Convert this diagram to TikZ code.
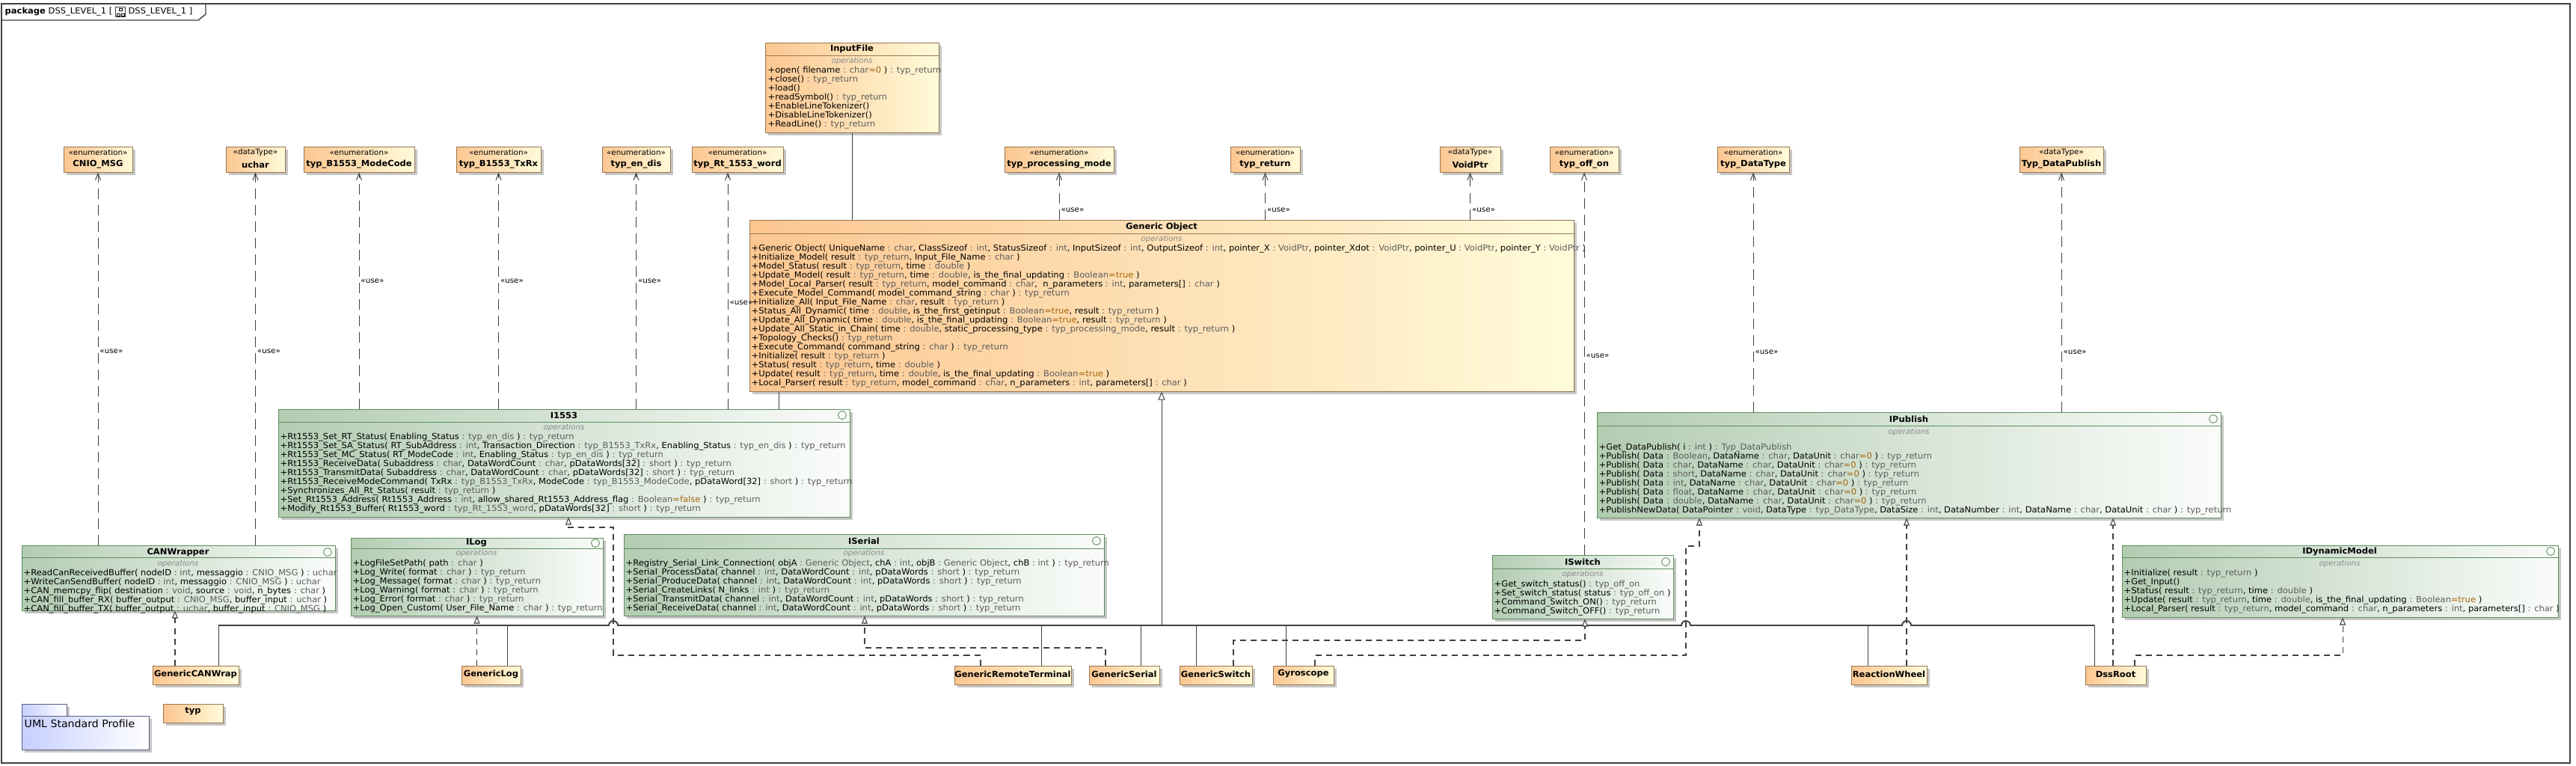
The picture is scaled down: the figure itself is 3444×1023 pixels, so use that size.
\documentclass[tikz,border=0pt]{standalone}
\usepackage{fontspec}
\setmainfont{DejaVu Sans}[FakeStretch=1.03]
\usetikzlibrary{positioning,fit,shadows,arrows.meta,calc}

\definecolor{orL}{HTML}{FCC690}
\definecolor{orR}{HTML}{FFFBDA}
\definecolor{orB}{HTML}{9A7652}
\definecolor{grL}{HTML}{B2CCB2}
\definecolor{grR}{HTML}{FAFCFA}
\definecolor{grB}{HTML}{5E8E5E}
\definecolor{pkL}{HTML}{C6CFFF}
\definecolor{pkB}{HTML}{5A5F8A}
\definecolor{tyc}{HTML}{5C5C5C}
\definecolor{dvc}{HTML}{A5650A}
\definecolor{opc}{HTML}{8A8A8A}
\definecolor{lnc}{HTML}{404040}

\newcommand{\ty}[1]{\textcolor{tyc}{#1}}
\newcommand{\dv}[1]{\textcolor{dvc}{#1}}
\newcommand{\fsn}{\fontsize{3.18pt}{3.414pt}\selectfont}
\newcommand{\fss}{\fontsize{2.85pt}{3.414pt}\selectfont}
\newcommand{\fsl}{\fontsize{3.9pt}{4.5pt}\selectfont}

\begin{document}
\catcode`\_=12
\begin{tikzpicture}[x=0.01cm, y=-0.01cm,
	orbox/.style={draw=orB, line width=0.28pt, left color=orL, right color=orR, inner sep=0pt,
		drop shadow={shadow xshift=0.035cm, shadow yshift=-0.035cm, fill=black!28, opacity=0.8}},
	grbox/.style={draw=grB, line width=0.28pt, left color=grL, right color=grR, inner sep=0pt,
		drop shadow={shadow xshift=0.035cm, shadow yshift=-0.035cm, fill=black!28, opacity=0.8}},
	pkbox/.style={draw=pkB, line width=0.28pt, left color=pkL, right color=white, inner sep=0pt,
		drop shadow={shadow xshift=0.035cm, shadow yshift=-0.035cm, fill=black!28, opacity=0.8}},
	orsep/.style={draw=orB, line width=0.28pt},
	grsep/.style={draw=grB, line width=0.28pt},
	ifc/.style={circle, draw=grB, line width=0.25pt, fill=grR, minimum size=0.11cm, inner sep=0pt},
	hdr/.style={font=\fsn\bfseries, inner sep=0pt},
	stereo/.style={font=\fss, inner sep=0pt},
	opl/.style={font=\fss\itshape, text=opc, inner sep=0pt},
	ops/.style={font=\fsn, align=left, inner sep=0pt, anchor=north west},
	pkgl/.style={font=\fsn, inner sep=0pt, anchor=west},
	frame/.style={draw=lnc, line width=0.4pt},
	dep/.style={draw=lnc, line width=0.28pt, dash pattern=on 0.14cm off 0.08cm,
		-{Straight Barb[length=0.09cm,width=0.07cm]}},
	real/.style={draw=lnc, line width=0.3pt, dash pattern=on 0.08cm off 0.06cm,
		-{Triangle[length=0.1cm,width=0.08cm,fill=white]}},
	gen/.style={draw=lnc, line width=0.28pt},
	bus/.style={draw=lnc, line width=0.55pt},
	usel/.style={font=\fss, inner sep=0.02cm, anchor=west}]

	\useasboundingbox (0,0) rectangle (3444,1023);
	\draw[frame] (2,5) rectangle (3436,1020);
	\draw[frame] (2,27) -- (265,27) -- (275,19) -- (275,5);
	\node[pkgl] (pkgA) at (6,16) {\textbf{package} DSS_LEVEL_1 [};
	\node[draw=lnc, line width=0.2pt, minimum size=0.13cm, inner sep=0pt, right=0.03cm of pkgA] (icon) {};
	\draw[line width=0.2pt] ($(icon.center)+(-2,-5)$) rectangle ($(icon.center)+(2,-2)$);
	\draw[line width=0.2pt] ($(icon.center)+(-5,2)$) rectangle ($(icon.center)+(-1,5)$);
	\draw[line width=0.2pt] ($(icon.center)+(1,2)$) rectangle ($(icon.center)+(5,5)$);
	\node[pkgl, right=0.03cm of icon] (pkgB) {DSS_LEVEL_1 ]};

	\foreach \n/\xa/\xb/\sty/\tn in {CNIO/85/177/enumeration/CNIO_MSG, uchar/302/381/dataType/uchar,
		ModeCode/406/554/enumeration/typ_B1553_ModeCode, TxRx/610/723/enumeration/typ_B1553_TxRx,
		endis/805/896/enumeration/typ_en_dis, RtWord/925/1047/enumeration/typ_Rt_1553_word,
		procmode/1343/1489/enumeration/typ_processing_mode, tret/1645/1738/enumeration/typ_return,
		VoidPtr/1925/2006/dataType/VoidPtr, offon/2072/2164/enumeration/typ_off_on,
		DataType/2296/2392/enumeration/typ_DataType, DataPub/2700/2812/dataType/Typ_DataPublish}{
		\node[orbox, fit={(\xa,196)(\xb,230)}] (\n) {};
		\node[stereo] (\n-s) at ({(\xa+\xb)/2},204) {«\sty»};
		\node[hdr] (\n-t) at ({(\xa+\xb)/2},220) {\tn};
	}

	\node[orbox, fit={(1023,57)(1255,177)}] (InputFile) {};
	\draw[orsep] (1023,74) -- (1255,74);
	\node[hdr] (InputFile-t) at (1139,65) {InputFile};
	\node[opl] (InputFile-o) at (1139,82) {operations};
	\node[ops] (InputFile-m) at (1026,88.5) {+open( filename \ty{: char}\dv{=0} ) \ty{: typ_return}\\
		+close() \ty{: typ_return}\\
		+load()\\
		+readSymbol() \ty{: typ_return}\\
		+EnableLineTokenizer()\\
		+DisableLineTokenizer()\\
		+ReadLine() \ty{: typ_return}};

	\node[orbox, fit={(1002,294)(2104,523)}] (GO) {};
	\draw[orsep] (1002,312) -- (2104,312);
	\node[hdr] (GO-t) at (1553,303) {Generic Object};
	\node[opl] (GO-o) at (1553,320) {operations};
	\node[ops] (GO-m) at (1004,326.5) {+Generic Object( UniqueName \ty{: char}, ClassSizeof \ty{: int}, StatusSizeof \ty{: int}, InputSizeof \ty{: int}, OutputSizeof \ty{: int}, pointer_X \ty{: VoidPtr}, pointer_Xdot \ty{: VoidPtr}, pointer_U \ty{: VoidPtr}, pointer_Y \ty{: VoidPtr} )\\
		+Initialize_Model( result \ty{: typ_return}, Input_File_Name \ty{: char} )\\
		+Model_Status( result \ty{: typ_return}, time \ty{: double} )\\
		+Update_Model( result \ty{: typ_return}, time \ty{: double}, is_the_final_updating \ty{: Boolean}\dv{=true} )\\
		+Model_Local_Parser( result \ty{: typ_return}, model_command \ty{: char}, \ n_parameters \ty{: int}, parameters[] \ty{: char} )\\
		+Execute_Model_Command( model_command_string \ty{: char} ) \ty{: typ_return}\\
		+Initialize_All( Input_File_Name \ty{: char}, result \ty{: typ_return} )\\
		+Status_All_Dynamic( time \ty{: double}, is_the_first_getinput \ty{: Boolean}\dv{=true}, result \ty{: typ_return} )\\
		+Update_All_Dynamic( time \ty{: double}, is_the_final_updating \ty{: Boolean}\dv{=true}, result \ty{: typ_return} )\\
		+Update_All_Static_in_Chain( time \ty{: double}, static_processing_type \ty{: typ_processing_mode}, result \ty{: typ_return} )\\
		+Topology_Checks() \ty{: typ_return}\\
		+Execute_Command( command_string \ty{: char} ) \ty{: typ_return}\\
		+Initialize( result \ty{: typ_return} )\\
		+Status( result \ty{: typ_return}, time \ty{: double} )\\
		+Update( result \ty{: typ_return}, time \ty{: double}, is_the_final_updating \ty{: Boolean}\dv{=true} )\\
		+Local_Parser( result \ty{: typ_return}, model_command \ty{: char}, n_parameters \ty{: int}, parameters[] \ty{: char} )};

	\node[grbox, fit={(372,547)(1136,691)}] (I1553) {};
	\draw[grsep] (372,564) -- (1136,564);
	\node[hdr] (I1553-t) at (754,555) {I1553};
	\node[ifc] (I1553-c) at (1126,555) {};
	\node[opl] (I1553-o) at (754,572) {operations};
	\node[ops] (I1553-m) at (374,578.5) {+Rt1553_Set_RT_Status( Enabling_Status \ty{: typ_en_dis} ) \ty{: typ_return}\\
		+Rt1553_Set_SA_Status( RT_SubAddress \ty{: int}, Transaction_Direction \ty{: typ_B1553_TxRx}, Enabling_Status \ty{: typ_en_dis} ) \ty{: typ_return}\\
		+Rt1553_Set_MC_Status( RT_ModeCode \ty{: int}, Enabling_Status \ty{: typ_en_dis} ) \ty{: typ_return}\\
		+Rt1553_ReceiveData( Subaddress \ty{: char}, DataWordCount \ty{: char}, pDataWords[32] \ty{: short} ) \ty{: typ_return}\\
		+Rt1553_TransmitData( Subaddress \ty{: char}, DataWordCount \ty{: char}, pDataWords[32] \ty{: short} ) \ty{: typ_return}\\
		+Rt1553_ReceiveModeCommand( TxRx \ty{: typ_B1553_TxRx}, ModeCode \ty{: typ_B1553_ModeCode}, pDataWord[32] \ty{: short} ) \ty{: typ_return}\\
		+Synchronizes_All_Rt_Status( result \ty{: typ_return} )\\
		+Set_Rt1553_Address( Rt1553_Address \ty{: int}, allow_shared_Rt1553_Address_flag \ty{: Boolean}\dv{=false} ) \ty{: typ_return}\\
		+Modify_Rt1553_Buffer( Rt1553_word \ty{: typ_Rt_1553_word}, pDataWords[32] \ty{: short} ) \ty{: typ_return}};

	\node[grbox, fit={(29,729)(448,816)}] (CANWrapper) {};
	\draw[grsep] (29,745) -- (448,745);
	\node[hdr] (CANWrapper-t) at (238,738) {CANWrapper};
	\node[ifc] (CANWrapper-c) at (438,738) {};
	\node[opl] (CANWrapper-o) at (238,754) {operations};
	\node[ops] (CANWrapper-m) at (31,760.5) {+ReadCanReceivedBuffer( nodeID \ty{: int}, messaggio \ty{: CNIO_MSG} ) \ty{: uchar}\\
		+WriteCanSendBuffer( nodeID \ty{: int}, messaggio \ty{: CNIO_MSG} ) \ty{: uchar}\\
		+CAN_memcpy_flip( destination \ty{: void}, source \ty{: void}, n_bytes \ty{: char} )\\
		+CAN_fill_buffer_RX( buffer_output \ty{: CNIO_MSG}, buffer_input \ty{: uchar} )\\
		+CAN_fill_buffer_TX( buffer_output \ty{: uchar}, buffer_input \ty{: CNIO_MSG} )};

	\node[grbox, fit={(469,719)(806,823)}] (ILog) {};
	\draw[grsep] (469,733) -- (806,733);
	\node[hdr] (ILog-t) at (637,726) {ILog};
	\node[ifc] (ILog-c) at (796,726) {};
	\node[opl] (ILog-o) at (637,740) {operations};
	\node[ops] (ILog-m) at (471,747.5) {+LogFileSetPath( path \ty{: char} )\\
		+Log_Write( format \ty{: char} ) \ty{: typ_return}\\
		+Log_Message( format \ty{: char} ) \ty{: typ_return}\\
		+Log_Warning( format \ty{: char} ) \ty{: typ_return}\\
		+Log_Error( format \ty{: char} ) \ty{: typ_return}\\
		+Log_Open_Custom( User_File_Name \ty{: char} ) \ty{: typ_return}};

	\node[grbox, fit={(834,714)(1476,823)}] (ISerial) {};
	\draw[grsep] (834,733) -- (1476,733);
	\node[hdr] (ISerial-t) at (1155,723) {ISerial};
	\node[ifc] (ISerial-c) at (1466,723) {};
	\node[opl] (ISerial-o) at (1155,740) {operations};
	\node[ops] (ISerial-m) at (836,747.5) {+Registry_Serial_Link_Connection( objA \ty{: Generic Object}, chA \ty{: int}, objB \ty{: Generic Object}, chB \ty{: int} ) \ty{: typ_return}\\
		+Serial_ProcessData( channel \ty{: int}, DataWordCount \ty{: int}, pDataWords \ty{: short} ) \ty{: typ_return}\\
		+Serial_ProduceData( channel \ty{: int}, DataWordCount \ty{: int}, pDataWords \ty{: short} ) \ty{: typ_return}\\
		+Serial_CreateLinks( N_links \ty{: int} ) \ty{: typ_return}\\
		+Serial_TransmitData( channel \ty{: int}, DataWordCount \ty{: int}, pDataWords \ty{: short} ) \ty{: typ_return}\\
		+Serial_ReceiveData( channel \ty{: int}, DataWordCount \ty{: int}, pDataWords \ty{: short} ) \ty{: typ_return}};

	\node[grbox, fit={(2135,551)(2969,692)}] (IPublish) {};
	\draw[grsep] (2135,569) -- (2969,569);
	\node[hdr] (IPublish-t) at (2552,560) {IPublish};
	\node[ifc] (IPublish-c) at (2959,560) {};
	\node[opl] (IPublish-o) at (2552,578) {operations};
	\node[ops] (IPublish-m) at (2137,592.5) {+Get_DataPublish( i \ty{: int} ) \ty{: Typ_DataPublish}\\
		+Publish( Data \ty{: Boolean}, DataName \ty{: char}, DataUnit \ty{: char}\dv{=0} ) \ty{: typ_return}\\
		+Publish( Data \ty{: char}, DataName \ty{: char}, DataUnit \ty{: char}\dv{=0} ) \ty{: typ_return}\\
		+Publish( Data \ty{: short}, DataName \ty{: char}, DataUnit \ty{: char}\dv{=0} ) \ty{: typ_return}\\
		+Publish( Data \ty{: int}, DataName \ty{: char}, DataUnit \ty{: char}\dv{=0} ) \ty{: typ_return}\\
		+Publish( Data \ty{: float}, DataName \ty{: char}, DataUnit \ty{: char}\dv{=0} ) \ty{: typ_return}\\
		+Publish( Data \ty{: double}, DataName \ty{: char}, DataUnit \ty{: char}\dv{=0} ) \ty{: typ_return}\\
		+PublishNewData( DataPointer \ty{: void}, DataType \ty{: typ_DataType}, DataSize \ty{: int}, DataNumber \ty{: int}, DataName \ty{: char}, DataUnit \ty{: char} ) \ty{: typ_return}};

	\node[grbox, fit={(1995,742)(2237,827)}] (ISwitch) {};
	\draw[grsep] (1995,760) -- (2237,760);
	\node[hdr] (ISwitch-t) at (2116,751) {ISwitch};
	\node[ifc] (ISwitch-c) at (2227,751) {};
	\node[opl] (ISwitch-o) at (2116,768) {operations};
	\node[ops] (ISwitch-m) at (1997,775.5) {+Get_switch_status() \ty{: typ_off_on}\\
		+Set_switch_status( status \ty{: typ_off_on} )\\
		+Command_Switch_ON() \ty{: typ_return}\\
		+Command_Switch_OFF() \ty{: typ_return}};

	\node[grbox, fit={(2837,729)(3420,825)}] (IDM) {};
	\draw[grsep] (2837,745) -- (3420,745);
	\node[hdr] (IDM-t) at (3128,737) {IDynamicModel};
	\node[ifc] (IDM-c) at (3410,737) {};
	\node[opl] (IDM-o) at (3128,754) {operations};
	\node[ops] (IDM-m) at (2839,760.5) {+Initialize( result \ty{: typ_return} )\\
		+Get_Input()\\
		+Status( result \ty{: typ_return}, time \ty{: double} )\\
		+Update( result \ty{: typ_return}, time \ty{: double}, is_the_final_updating \ty{: Boolean}\dv{=true} )\\
		+Local_Parser( result \ty{: typ_return}, model_command \ty{: char}, n_parameters \ty{: int}, parameters[] \ty{: char} )};

	\foreach \n/\xa/\xb/\tn in {GCAN/204/319/GenericCANWrap, GLog/617/696/GenericLog,
		GRT/1276/1432/GenericRemoteTerminal, GSer/1456/1550/GenericSerial, GSw/1577/1674/GenericSwitch,
		Gyro/1702/1783/Gyroscope, RWheel/2475/2576/ReactionWheel, DssRoot/2788/2869/DssRoot}{
		\node[orbox, fit={(\xa,890)(\xb,915)}] (\n) {};
		\node[hdr] (\n-t) at ({(\xa+\xb)/2},901) {\tn};
	}

	\node[pkbox, fit={(29,941)(89,957)}] (UMLSP-tab) {};
	\node[pkbox, fit={(29,957)(199,1002)}] (UMLSP) {};
	\node[font=\fsl, inner sep=0pt, anchor=west] (UMLSP-t) at (32,967) {UML Standard Profile};
	\node[orbox, fit={(218,941)(298,966)}] (typ) {};
	\node[hdr] (typ-t) at (258,951) {typ};

	\coordinate (busL) at (292,836);
	\coordinate (busR) at (2800,836);
	\coordinate (dLog) at (678,836);
	\coordinate (dGRT) at (1392,836);
	\coordinate (dGSer) at (1525,836);
	\coordinate (dGSw) at (1599,836);
	\coordinate (dGyro) at (1719,836);
	\coordinate (dRW) at (2497,836);
	\coordinate (rtw) at (973,400);
	\coordinate (goi) at (1041,535);
	\coordinate (cw1) at (234,860);
	\coordinate (rt1) at (1311,876);
	\coordinate (rt2) at (820,876);
	\coordinate (rt3) at (820,705);
	\coordinate (rt4) at (760,705);
	\coordinate (gs1) at (1478,866);
	\coordinate (gs2) at (1156,866);
	\coordinate (sw1) at (1649,856);
	\coordinate (sw2) at (2119,856);
	\coordinate (gy1) at (1758,876);
	\coordinate (gy2) at (2254,876);
	\coordinate (gy3) at (2254,730);
	\coordinate (gy4) at (2272,730);
	\coordinate (rw1) at (2549,880);
	\coordinate (dr1) at (2825,880);
	\coordinate (dr2) at (2854,876);
	\coordinate (dr3) at (3132,876);

	\draw[gen] (InputFile.south) -- (InputFile.south |- GO.north);
	\draw[gen] (goi |- GO.south) -- (goi |- I1553.north);
	\draw[bus] (busL) -- (814,836) arc (180:360:6) -- (2248,836) arc (180:360:6)
		-- (2543,836) arc (180:360:6) -- (busR);
	\draw[gen, -{Triangle[length=0.11cm,width=0.09cm,fill=white]}] (GO.south |- busL) -- (GO.south);
	\foreach \c/\b in {busL/GCAN, dLog/GLog, dGRT/GRT, dGSer/GSer, dGSw/GSw, dGyro/Gyro, dRW/RWheel, busR/DssRoot}
		\draw[gen] (\c) -- (\c |- \b.north);

	\draw[real] (cw1 |- GCAN.north) -- (cw1 |- CANWrapper.south);
	\draw[real] (GLog.north -| ILog.south) -- (ILog.south);
	\draw[real] (GRT.north -| rt1) -- (rt1) -- (rt2) -- (rt3) -- (rt4) -- (rt4 |- I1553.south);
	\draw[real] (GSer.north -| gs1) -- (gs1) -- (gs2) -- (gs2 |- ISerial.south);
	\draw[real] (GSw.north -| sw1) -- (sw1) -- (sw2) -- (sw2 |- ISwitch.south);
	\draw[real] (Gyro.north -| gy1) -- (gy1) -- (gy2) -- (gy3) -- (gy4) -- (gy4 |- IPublish.south);
	\draw[real] (rw1 |- RWheel.north) -- (rw1 |- IPublish.south);
	\draw[real] (dr1 |- DssRoot.north) -- (dr1 |- IPublish.south);
	\draw[real] (DssRoot.north -| dr2) -- (dr2) -- (dr3) -- (dr3 |- IDM.south);

	\draw[dep] (CANWrapper.north -| CNIO.south) -- node[usel, pos=.52] (uCNIO) {«use»} (CNIO.south);
	\draw[dep] (CANWrapper.north -| uchar.south) -- node[usel, pos=.52] (uUchar) {«use»} (uchar.south);
	\draw[dep] (I1553.north -| ModeCode.south) -- node[usel, pos=.54] (uMode) {«use»} (ModeCode.south);
	\draw[dep] (I1553.north -| TxRx.south) -- node[usel, pos=.54] (uTxRx) {«use»} (TxRx.south);
	\draw[dep] (I1553.north -| endis.south) -- node[usel, pos=.54] (uEndis) {«use»} (endis.south);
	\draw[dep] (I1553.north -| rtw) -- node[usel, pos=.45] (uRtw) {«use»} (RtWord.south -| rtw);
	\draw[dep] (GO.north -| procmode.south) -- node[usel, pos=.2] (uProc) {«use»} (procmode.south);
	\draw[dep] (GO.north -| tret.south) -- node[usel, pos=.2] (uRet) {«use»} (tret.south);
	\draw[dep] (GO.north -| VoidPtr.south) -- node[usel, pos=.2] (uVoid) {«use»} (VoidPtr.south);
	\draw[dep] (ISwitch.north -| offon.south) -- node[usel, pos=.52] (uOffon) {«use»} (offon.south);
	\draw[dep] (IPublish.north -| DataType.south) -- node[usel, pos=.25] (uDType) {«use»} (DataType.south);
	\draw[dep] (IPublish.north -| DataPub.south) -- node[usel, pos=.25] (uDPub) {«use»} (DataPub.south);
\end{tikzpicture}
\end{document}
